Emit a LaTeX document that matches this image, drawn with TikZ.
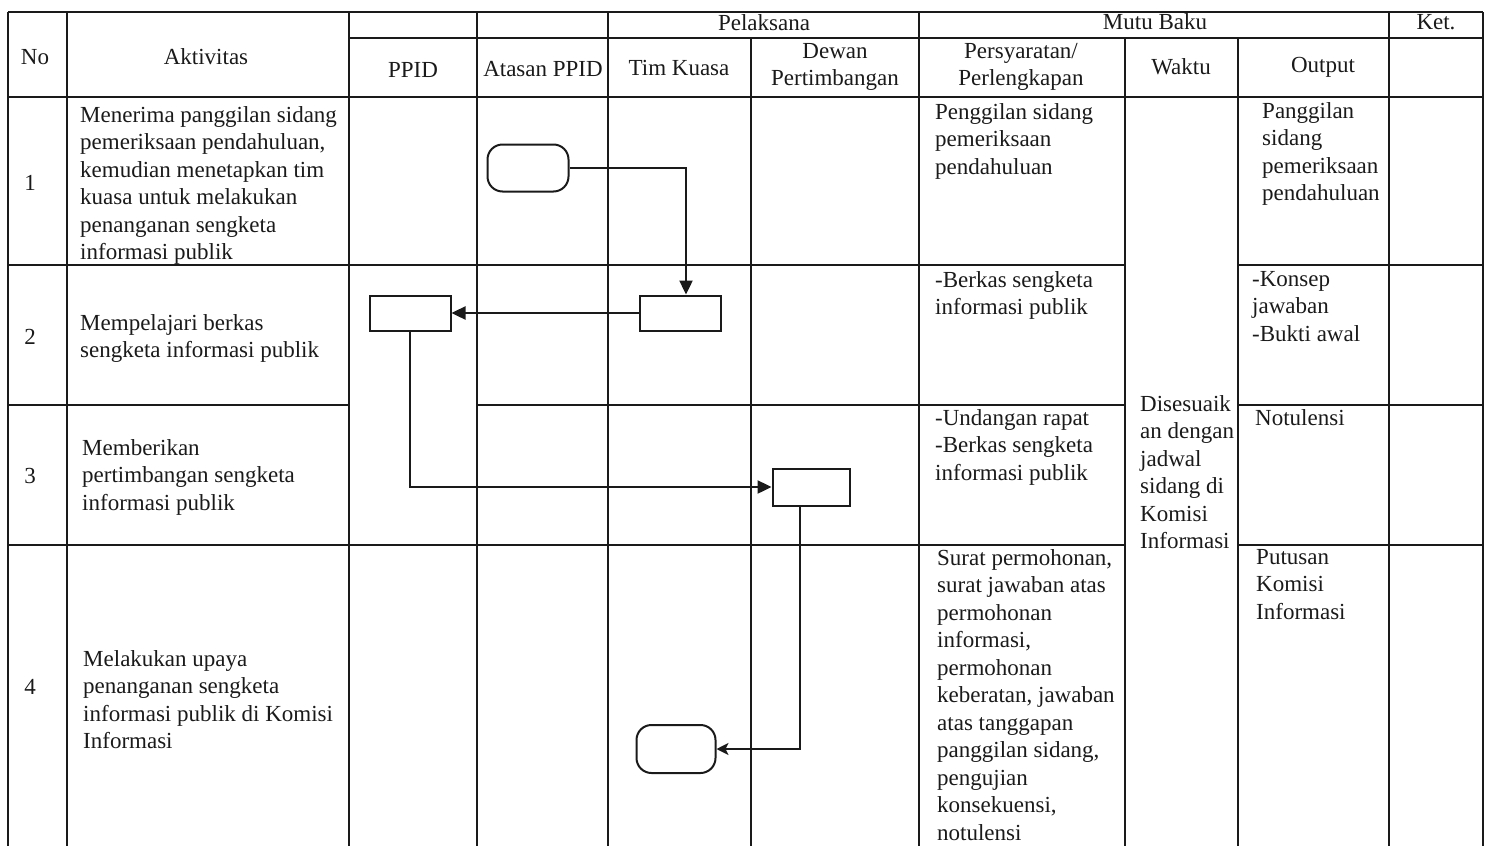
\documentclass[tikz,border=0pt]{standalone}
\usepackage{fontspec}
\setmainfont{Liberation Serif}
\usepackage{xcolor}
\usepackage{tikz}
\usetikzlibrary{arrows.meta, positioning}
\definecolor{ink}{HTML}{1A1A1A}

\begin{document}
\begin{tikzpicture}[x=1pt, y=-1pt,
      grid/.style={draw=ink, line width=1.6pt},
      head/.style={inner sep=0pt, align=center, text=ink, font=\fontsize{23}{27}\selectfont},
      cell/.style={anchor=north west, inner sep=0pt, yshift=-3pt, align=left, text=ink, font=\fontsize{23}{27.5}\selectfont},
      box/.style={draw=ink, line width=2pt, minimum width=81pt, minimum height=35pt},
      term/.style={draw=ink, line width=2pt, rounded corners=15pt, minimum width=81pt, minimum height=47pt},
      flow/.style={draw=ink, line width=2.4pt, -{Triangle[length=14pt, width=13pt]}}]
    \useasboundingbox (0,0) rectangle (1497,846);
    % table
    \draw[grid] (8,12) -- (1483,12) (349,38) -- (1483,38) (8,97) -- (1483,97);
    \draw[grid] (8,265) -- (1125,265) (1238,265) -- (1483,265);
    \draw[grid] (8,405) -- (349,405) (477,405) -- (1125,405) (1238,405) -- (1483,405);
    \draw[grid] (8,545) -- (1125,545) (1238,545) -- (1483,545);
    \foreach \x in {8,67,349,477,608,919,1389,1483}
      \draw[grid] (\x,12) -- (\x,846);
    \foreach \x in {751,1125,1238}
      \draw[grid] (\x,38) -- (\x,846);
    % header
    \node[head] (hno) at (35,57) {No};
    \node[head] (hakt) at (206,57) {Aktivitas};
    \node[head] (hpel) at (764,23) {Pelaksana};
    \node[head] (hmutu) at (1155,22) {Mutu Baku};
    \node[head] (hket) at (1436,22) {Ket.};
    \node[head] (hppid) at (413,70) {PPID};
    \node[head] (hatasan) at (543,69) {Atasan PPID};
    \node[head] (htim) at (679,68) {Tim Kuasa};
    \node[head] (hdewan) at (835,67) {Dewan\\Pertimbangan};
    \node[head] (hsyarat) at (1021,67) {Persyaratan/\\Perlengkapan};
    \node[head] (hwaktu) at (1181,67) {Waktu};
    \node[head] (hout) at (1323,67) {Output};
    \foreach \n/\y in {1/183, 2/337, 3/476, 4/687}
      \node[head] (n\n) at (30,\y) {\n};
    % aktivitas
    \node[cell] (akt1) at (80,103) {Menerima panggilan sidang\\pemeriksaan pendahuluan,\\kemudian menetapkan tim\\kuasa untuk melakukan\\penanganan sengketa\\informasi publik};
    \node[cell] (akt2) at (80,311) {Mempelajari berkas\\sengketa informasi publik};
    \node[cell] (akt3) at (82,436) {Memberikan\\pertimbangan sengketa\\informasi publik};
    \node[cell] (akt4) at (83,647) {Melakukan upaya\\penanganan sengketa\\informasi publik di Komisi\\Informasi};
    % mutu baku
    \node[cell] (syarat1) at (935,100) {Penggilan sidang\\pemeriksaan\\pendahuluan};
    \node[cell] (syarat2) at (935,268) {-Berkas sengketa\\informasi publik};
    \node[cell] (syarat3) at (935,406) {-Undangan rapat\\-Berkas sengketa\\informasi publik};
    \node[cell] (syarat4) at (937,546) {Surat permohonan,\\surat jawaban atas\\permohonan\\informasi,\\permohonan\\keberatan, jawaban\\atas tanggapan\\panggilan sidang,\\pengujian\\konsekuensi,\\notulensi};
    \node[cell] (waktu) at (1140,392) {Disesuaik\\an dengan\\jadwal\\sidang di\\Komisi\\Informasi};
    \node[cell] (out1) at (1262,99) {Panggilan\\sidang\\pemeriksaan\\pendahuluan};
    \node[cell] (out2) at (1252,268) {-Konsep\\jawaban\\-Bukti awal};
    \node[cell] (out3) at (1255,406) {Notulensi};
    \node[cell] (out4) at (1256,546) {Putusan\\Komisi\\Informasi};
    % flow
    \node[term] (mulai) at (528,168) {};
    \node[box] (tk) at (680,313) {};
    \node[box] (ppid) at (410,313) {};
    \node[box, minimum width=77pt, minimum height=37pt] (dewan) at (811,487) {};
    \node[term, minimum width=79pt, minimum height=48pt] (selesai) at (676,749) {};
    \draw[flow] (mulai.east) -| ([xshift=6pt]tk.north);
    \draw[flow] (tk.west) -- (ppid.east);
    \draw[flow] (ppid.south) |- (dewan.west);
    \draw[flow, -{Stealth[length=12pt, width=12pt, inset=3pt]}] ([xshift=-11pt]dewan.south) |- (selesai.east);
  \end{tikzpicture}
\end{document}
